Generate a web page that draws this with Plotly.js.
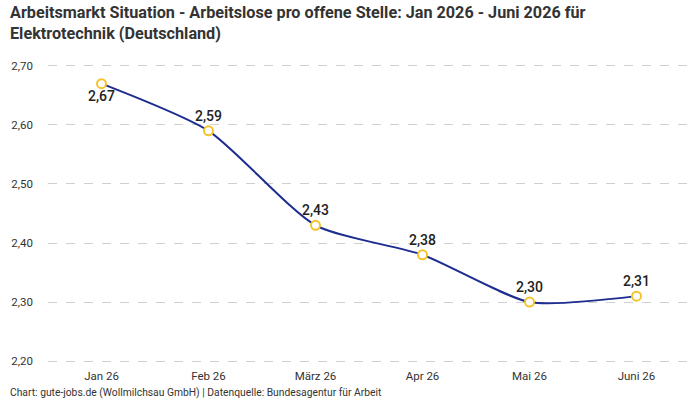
<!DOCTYPE html>
<html><head><meta charset="utf-8">
<script src="https://cdn.plot.ly/plotly-3.0.1.min.js"></script>
<style>body{margin:0;background:#fff}#c{width:700px;height:400px}</style>
</head><body><div id="c"></div>
<script>
const categories = ["Jan 26","Feb 26","März 26","Apr 26","Mai 26","Juni 26"];
const values = [2.67, 2.59, 2.43, 2.38, 2.30, 2.31];
const labels = ["2,67","2,59","2,43","2,38","2,30","2,31"];
const tickVals = [2.2, 2.3, 2.4, 2.5, 2.6, 2.7];
const tickText = ["2,20","2,30","2,40","2,50","2,60","2,70"];
const titleText = "Arbeitsmarkt Situation - Arbeitslose pro offene Stelle: Jan 2026 - Juni 2026 für<br>Elektrotechnik (Deutschland)";
const sourceText = "Chart: gute-jobs.de (Wollmilchsau GmbH) | Datenquelle: Bundesagentur für Arbeit";

const positions = values.map((v,i)=> i===0 ? "bottom center" : "top center");
const font = "Roboto, 'Noto Sans', sans-serif";

Plotly.newPlot("c", [{
  x: categories, y: values, type: "scatter", mode: "lines+markers+text",
  line: {color: "#1c2d8f", width: 2, shape: "spline", smoothing: 0.65},
  marker: {size: 9, color: "#ffffff", line: {color: "#f5c42c", width: 2}},
  text: labels, textposition: positions,
  textfont: {family: font, size: 14, color: "#222", weight: 500},
  cliponaxis: false, hoverinfo: "skip"
}], {
  width: 700, height: 400,
  margin: {l: 48, r: 10, t: 63, b: 36},
  paper_bgcolor: "#fff", plot_bgcolor: "#fff",
  showlegend: false,
  font: {family: font, color: "#333", size: 11},
  xaxis: {type: "category", range: [-0.5, 5.5], showgrid: false, zeroline: false, showline: false,
          ticks: "", tickfont: {size: 11.5, color: "#333"}, ticklabelstandoff: 3, fixedrange: true},
  yaxis: {range: [2.195, 2.705], tickvals: tickVals, ticktext: tickText, showgrid: true,
          gridcolor: "#d0d0d0", griddash: "dash", gridwidth: 1, zeroline: false, showline: false,
          ticks: "", ticklabelstandoff: 14, tickfont: {size: 11.5, color: "#333"}, fixedrange: true},
  annotations: [
    {text: titleText, xref: "paper", yref: "paper", x: -0.062, y: 1.206, xanchor: "left", yanchor: "top",
     align: "left", showarrow: false, font: {family: font, size: 16.2, color: "#333", weight: "bold"}},
    {text: sourceText, xref: "paper", yref: "paper", x: -0.062, y: -0.0963,
     xanchor: "left", yanchor: "middle", showarrow: false,
     font: {family: font, size: 10.3, color: "#333"}}]
}, {displayModeBar: false, staticPlot: true});
</script></body></html>
